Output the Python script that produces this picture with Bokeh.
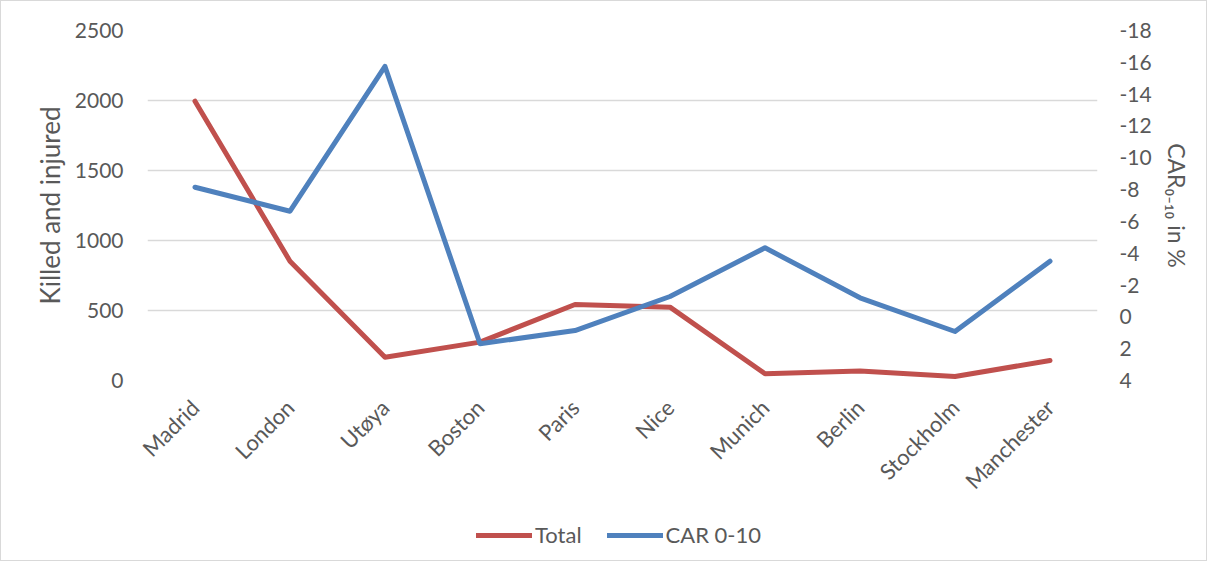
import math
from bokeh.plotting import figure
from bokeh.layouts import column
from bokeh.models import (FactorRange, Range1d, LinearAxis, FixedTicker, Legend, LegendItem)
from bokeh.embed import file_html
from bokeh.resources import INLINE

cities = ["Madrid", "London", "Utøya", "Boston", "Paris", "Nice", "Munich",
          "Berlin", "Stockholm", "Manchester"]
total = [1995, 852, 166, 274, 543, 524, 48, 67, 29, 143]
car = [-8.15, -6.64, -15.74, 1.69, 0.86, -1.28, -4.34, -1.2, 0.92, -3.5]
left_ticks = [0, 500, 1000, 1500, 2000, 2500]
right_ticks = [-18, -16, -14, -12, -10, -8, -6, -4, -2, 0, 2, 4]

RED = "#C0504D"
BLUE = "#4F81BD"
TXT = "#595959"
FONT = "Lato"

p = figure(width=1205, height=507, x_range=FactorRange(factors=cities, range_padding=0),
           y_range=Range1d(0, 2500), output_backend="svg", toolbar_location=None,
           min_border_left=146, min_border_right=109, min_border_top=29,
           min_border_bottom=128)
p.outline_line_color = None
p.extra_y_ranges = {"car": Range1d(4, -18)}

r_total = p.line(x=cities, y=total, line_color=RED, line_width=5,
                 line_cap="round", line_join="round")
r_car = p.line(x=cities, y=car, y_range_name="car", line_color=BLUE, line_width=5,
               line_cap="round", line_join="round")

# left axis
ya = p.yaxis[0]
ya.ticker = FixedTicker(ticks=left_ticks)
ya.axis_line_color = None
ya.major_tick_line_color = None
ya.minor_tick_line_color = None
ya.major_label_standoff = 18
ya.major_label_text_font = FONT
ya.major_label_text_font_size = "21px"
ya.major_label_text_color = TXT
ya.axis_label = "Killed and injured"
ya.axis_label_text_font = FONT
ya.axis_label_text_font_size = "26px"
ya.axis_label_text_font_style = "normal"
ya.axis_label_text_color = TXT
ya.axis_label_standoff = 6

# right axis (hyphen minus as in the original)
ra = LinearAxis(y_range_name="car", ticker=FixedTicker(ticks=right_ticks))
ra.major_label_overrides = {t: str(t) for t in right_ticks}
ra.axis_line_color = None
ra.major_tick_line_color = None
ra.minor_tick_line_color = None
ra.major_label_standoff = 16
ra.major_label_text_font = FONT
ra.major_label_text_font_size = "21px"
ra.major_label_text_color = TXT
ra.axis_label = "CAR₀₋₁₀ in %"
ra.axis_label_text_font = FONT
ra.axis_label_text_font_size = "23px"
ra.axis_label_text_font_style = "normal"
ra.axis_label_text_color = TXT
ra.axis_label_standoff = 8
p.add_layout(ra, "right")

# x axis
xa = p.xaxis[0]
xa.axis_line_color = None
xa.major_tick_line_color = None
xa.minor_tick_line_color = None
xa.major_label_orientation = math.pi / 4
xa.major_label_standoff = 17
xa.major_label_text_font = FONT
xa.major_label_text_font_size = "22px"
xa.major_label_text_color = TXT

p.xgrid.grid_line_color = None
p.ygrid.grid_line_color = "#D9D9D9"
p.ygrid.grid_line_width = 1.3

# legend strip (separate figure below the chart); its lines lie outside its view
lf = figure(width=1205, height=52, x_range=Range1d(0, 1), y_range=Range1d(-2, -1),
            output_backend="svg", toolbar_location=None,
            min_border_left=0, min_border_right=0, min_border_top=0, min_border_bottom=0)
lf.axis.visible = False
lf.grid.visible = False
lf.outline_line_color = None
idx = list(range(len(cities)))
l_total = lf.line(x=idx, y=total, line_color=RED, line_width=5, line_cap="round")
l_car = lf.line(x=idx, y=[abs(v) + 100 for v in car], line_color=BLUE, line_width=5,
                line_cap="round")
legend = Legend(items=[LegendItem(label="Total", renderers=[l_total]),
                       LegendItem(label="CAR 0-10", renderers=[l_car])],
                location=(329, 12), orientation="horizontal",
                glyph_width=56, glyph_height=20, label_standoff=3, spacing=25,
                padding=0, margin=0, border_line_color=None,
                background_fill_alpha=0,
                label_text_font=FONT, label_text_font_size="22px",
                label_text_color=TXT)
lf.add_layout(legend, "center")

layout = column(p, lf, spacing=0)
layout.styles = {"border": "1px solid #D9D9D9"}

open("out.html", "w").write(file_html(layout, INLINE))
